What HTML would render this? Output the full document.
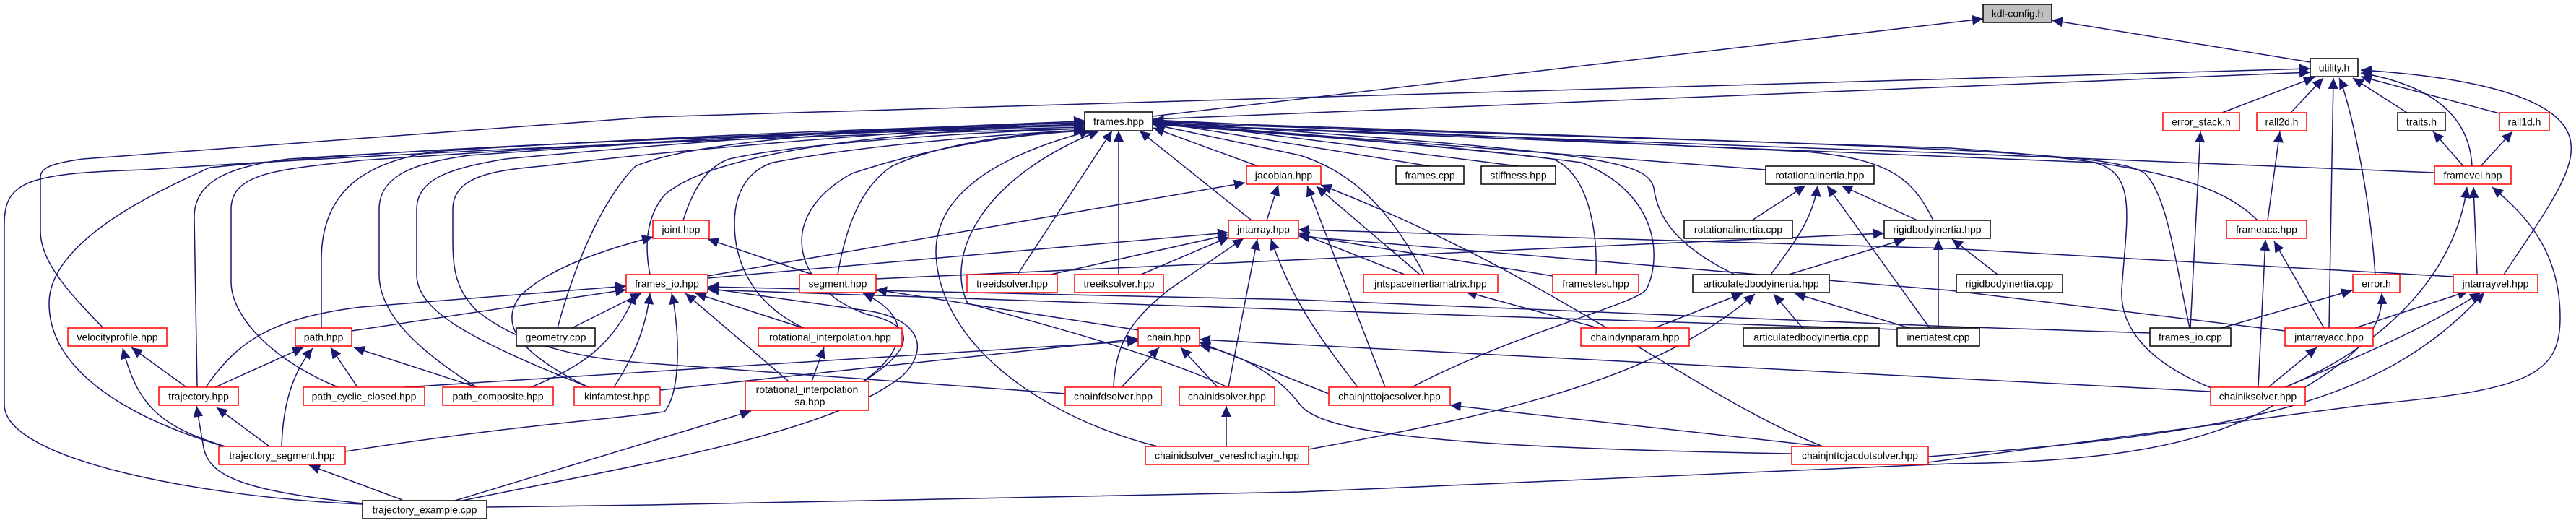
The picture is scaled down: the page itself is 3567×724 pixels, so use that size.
<!DOCTYPE html>
<html><head><meta charset="utf-8">
<style>
html,body{margin:0;padding:0;background:#fff;}
svg{display:block;}
text{font-family:"Liberation Sans",sans-serif;font-size:14px;fill:#000;}
.e{fill:none;stroke:#191970;stroke-width:1.5;}
.r{fill:#fff;stroke:#ff0000;stroke-width:1.5;}
.b{fill:#fff;stroke:#000;stroke-width:1.5;}
</style></head>
<body>
<svg width="3567" height="724" viewBox="0 0 3567 724" xmlns="http://www.w3.org/2000/svg">
<defs>
<marker id="a" markerUnits="userSpaceOnUse" markerWidth="16" markerHeight="14" refX="15" refY="7" orient="auto">
<path d="M0,0 L15,7 L0,14 z" fill="#191970"/>
</marker>
</defs>
<g class="e" marker-end="url(#a)">
<path d="M1596,161 L2746,26"/>
<path d="M3199,86 L2841,28"/>
<path d="M1596,165 L3199,100"/>
<path d="M143,454 C90,400 56,360 56,320 L56,245 C56,230 80,225 115,220 L900,162 L1800,135 L3199,95"/>
<path d="M3077,156 L3205,107"/>
<path d="M3172,156 L3217,108"/>
<path d="M3333,156 L3258,108"/>
<path d="M3461,157 L3269,106"/>
<path d="M3423,230 C3420,170 3380,120 3269,101"/>
<path d="M3467,380 C3520,300 3565,240 3560,200 C3555,130 3400,105 3269,97"/>
<path d="M3289,380 C3280,250 3250,130 3239,108"/>
<path d="M3225,454 L3231,108"/>
<path d="M3411,230 L3369,182"/>
<path d="M3435,230 L3479,182"/>
<path d="M3430,380 L3425,259"/>
<path d="M3164,536 C3300,480 3400,380 3416,259"/>
<path d="M2670,640 L3280,560 C3500,540 3545,520 3545,440 C3545,350 3500,300 3451,259"/>
<path d="M3140,305 L3157,182"/>
<path d="M3218,454 L3149,334"/>
<path d="M3127,536 L3137,332"/>
<path d="M3033,454 L3047,182"/>
<path d="M3076,454 L3257,402"/>
<path d="M3261,454 L3418,403"/>
<path d="M3164,536 C3250,500 3350,460 3435,405"/>
<path d="M2670,632 C3100,600 3300,560 3440,405"/>
<path d="M3141,536 L3208,481"/>
<path d="M674,702 L900,699 L1800,681 L2700,642 C2900,640 3050,620 3150,560 C3260,500 3300,460 3298,406"/>
<path d="M3371,239 L2700,212 L1596,172"/>
<path d="M3126,305 C3080,260 3000,225 2700,205 L1596,170"/>
<path d="M3062,537 C2970,500 2935,450 2938,400 C2945,300 2960,240 2900,225 L1596,172"/>
<path d="M3032,454 C3010,350 3000,270 2970,240 C2930,210 2700,205 1596,168"/>
<path d="M1980,230 L1596,168"/>
<path d="M2102,230 L1596,166"/>
<path d="M2445,235 L1596,170"/>
<path d="M1972,380 C1930,300 1880,240 1800,215 L1596,172"/>
<path d="M2210,380 C2212,320 2200,240 2150,220 C2000,200 1700,180 1596,170"/>
<path d="M2402,380 C2320,340 2295,300 2290,260 C2280,220 2200,210 1596,168"/>
<path d="M2677,305 C2650,250 2620,220 2500,210 L1596,166"/>
<path d="M1955,536 C2100,460 2270,420 2280,400 C2300,360 2300,270 2190,225 C2000,200 1700,180 1596,172"/>
<path d="M1742,230 L1597,177"/>
<path d="M1733,305 L1578,181"/>
<path d="M1549,380 L1549,181"/>
<path d="M1409,380 L1540,181"/>
<path d="M1603,618 C1450,580 1300,480 1296,350 C1295,260 1400,210 1510,181"/>
<path d="M1700,536 C1600,490 1450,450 1340,420 C1310,360 1350,250 1522,181"/>
<path d="M502,698 C300,690 6,640 6,560 L6,310 C6,250 40,240 200,235 C500,215 1000,190 1502,178"/>
<path d="M310,618 C150,570 68,500 68,420 C68,330 230,260 290,232 C600,200 1100,185 1502,176"/>
<path d="M273,536 L269,300 C269,250 320,230 400,220 C800,195 1200,180 1502,174"/>
<path d="M468,536 C380,500 320,440 320,390 L320,290 C320,240 380,235 500,222 C900,195 1200,180 1502,172"/>
<path d="M445,454 L445,360 C445,260 510,225 600,210 C900,190 1200,178 1502,170"/>
<path d="M660,536 C570,480 525,430 525,380 L525,290 C525,240 580,225 650,215 C1000,190 1250,176 1502,170"/>
<path d="M815,536 C650,470 577,430 577,380 L577,290 C577,245 630,232 700,220 C1000,192 1250,176 1502,168"/>
<path d="M1475,545 L900,503 C780,495 710,470 660,430 C630,400 627,370 627,330 L627,290 C627,245 680,236 750,230 C1000,200 1300,180 1502,167"/>
<path d="M772,454 C800,350 840,270 880,230 C960,195 1200,178 1502,170"/>
<path d="M900,380 C892,340 895,300 920,270 C1000,200 1300,180 1502,172"/>
<path d="M946,305 C960,260 980,230 1010,220 C1100,200 1300,185 1502,178"/>
<path d="M1113,454 C1040,420 1017,360 1017,310 C1017,260 1040,235 1070,225 C1200,200 1400,185 1502,180"/>
<path d="M1160,380 C1170,320 1190,260 1235,230 C1300,200 1400,185 1502,180"/>
<path d="M1196,528 C1270,480 1268,450 1200,435 C1100,400 1070,300 1180,240 C1300,200 1420,185 1502,181"/>
<path d="M1754,305 L1770,256"/>
<path d="M980,382 L1724,253"/>
<path d="M1966,380 L1823,258"/>
<path d="M1918,536 L1810,257"/>
<path d="M2524,618 C2350,550 2150,380 1829,256"/>
<path d="M980,385 L1701,322"/>
<path d="M1455,380 L1701,325"/>
<path d="M1580,380 L1702,328"/>
<path d="M1542,536 C1545,470 1570,440 1620,400 L1722,330"/>
<path d="M1701,536 L1741,331"/>
<path d="M1880,536 C1830,470 1790,420 1760,331"/>
<path d="M1945,380 L1798,322"/>
<path d="M2150,382 L1798,325"/>
<path d="M3397,383 L2700,344 L1798,318"/>
<path d="M3164,458 L2700,402 L1798,327"/>
<path d="M1213,386 L2609,323"/>
<path d="M2477,380 L2638,331"/>
<path d="M2452,380 C2490,330 2510,300 2517,257"/>
<path d="M2655,305 L2550,257"/>
<path d="M2426,305 L2500,257"/>
<path d="M2672,454 L2530,257"/>
<path d="M2684,454 L2684,331"/>
<path d="M2644,454 L2485,406"/>
<path d="M2496,454 L2456,407"/>
<path d="M2291,454 L2413,406"/>
<path d="M2213,454 L2030,404"/>
<path d="M2766,380 L2703,331"/>
<path d="M1812,622 C2100,570 2300,520 2430,407"/>
<path d="M1698,618 L1698,562"/>
<path d="M2525,618 L2008,561"/>
<path d="M2481,628 C2000,620 1830,600 1800,560 C1770,520 1720,490 1661,478"/>
<path d="M1686,536 L1635,481"/>
<path d="M1553,536 L1605,481"/>
<path d="M3061,542 L1661,470"/>
<path d="M1840,545 L1661,474"/>
<path d="M914,540 L1576,469"/>
<path d="M1577,457 L1213,401"/>
<path d="M1125,380 L980,331"/>
<path d="M1195,528 C1250,490 1270,440 1195,406"/>
<path d="M560,536 L1576,472"/>
<path d="M815,536 C720,490 690,450 720,410 C760,370 840,345 904,328"/>
<path d="M285,536 C330,470 380,440 500,425 L867,396"/>
<path d="M487,458 L867,401"/>
<path d="M792,454 L888,406"/>
<path d="M735,536 C800,510 850,480 880,406"/>
<path d="M850,536 C880,490 895,450 900,406"/>
<path d="M1112,454 L963,406"/>
<path d="M1092,528 L949,406"/>
<path d="M478,625 C700,590 850,580 920,570 C945,540 940,450 930,406"/>
<path d="M640,693 C900,640 1150,600 1250,520 C1290,480 1270,440 1200,430 L980,399"/>
<path d="M2977,461 L2700,452 L1800,415 L980,397"/>
<path d="M2627,456 L1800,429 L980,401"/>
<path d="M630,693 L1040,569"/>
<path d="M502,697 C340,680 290,660 282,620 L272,562"/>
<path d="M557,692 L428,644"/>
<path d="M373,618 L300,564"/>
<path d="M312,618 C220,590 190,560 170,482"/>
<path d="M390,618 C392,550 410,510 433,482"/>
<path d="M258,536 L182,481"/>
<path d="M298,536 L420,481"/>
<path d="M495,536 L458,481"/>
<path d="M660,536 L490,481"/>
<path d="M1124,528 L1141,481"/>
</g>
<g>
<rect x="2746" y="6" width="95" height="25" fill="#bfbfbf" stroke="#000" stroke-width="1.5"/><text x="2793.5" y="23.5" text-anchor="middle">kdl-config.h</text>
<rect class="b" x="3199" y="81" width="66" height="25"/><text x="3232" y="98.5" text-anchor="middle">utility.h</text>
<rect class="b" x="1502" y="155" width="94" height="26"/><text x="1549" y="173" text-anchor="middle">frames.hpp</text>
<rect class="r" x="2995" y="156" width="106" height="25"/><text x="3048" y="173.5" text-anchor="middle">error_stack.h</text>
<rect class="r" x="3125" y="156" width="69" height="25"/><text x="3159.5" y="173.5" text-anchor="middle">rall2d.h</text>
<rect class="b" x="3320" y="156" width="66" height="25"/><text x="3353" y="173.5" text-anchor="middle">traits.h</text>
<rect class="r" x="3461" y="156" width="69" height="25"/><text x="3495.5" y="173.5" text-anchor="middle">rall1d.h</text>
<rect class="r" x="1726" y="230" width="103" height="25"/><text x="1777.5" y="247.5" text-anchor="middle">jacobian.hpp</text>
<rect class="b" x="1933" y="230" width="94" height="25"/><text x="1980" y="247.5" text-anchor="middle">frames.cpp</text>
<rect class="b" x="2051" y="230" width="103" height="25"/><text x="2102.5" y="247.5" text-anchor="middle">stiffness.hpp</text>
<rect class="b" x="2445" y="230" width="150" height="25"/><text x="2520" y="247.5" text-anchor="middle">rotationalinertia.hpp</text>
<rect class="r" x="3371" y="230" width="106" height="25"/><text x="3424" y="247.5" text-anchor="middle">framevel.hpp</text>
<rect class="r" x="904" y="305" width="78" height="25"/><text x="943" y="322.5" text-anchor="middle">joint.hpp</text>
<rect class="r" x="1701" y="305" width="97" height="25"/><text x="1749.5" y="322.5" text-anchor="middle">jntarray.hpp</text>
<rect class="b" x="2332" y="305" width="150" height="25"/><text x="2407" y="322.5" text-anchor="middle">rotationalinertia.cpp</text>
<rect class="b" x="2609" y="305" width="147" height="25"/><text x="2682.5" y="322.5" text-anchor="middle">rigidbodyinertia.hpp</text>
<rect class="r" x="3083" y="305" width="111" height="25"/><text x="3138.5" y="322.5" text-anchor="middle">frameacc.hpp</text>
<rect class="r" x="867" y="380" width="113" height="25"/><text x="923.5" y="397.5" text-anchor="middle">frames_io.hpp</text>
<rect class="r" x="1107" y="380" width="106" height="25"/><text x="1160" y="397.5" text-anchor="middle">segment.hpp</text>
<rect class="r" x="1339" y="380" width="125" height="25"/><text x="1401.5" y="397.5" text-anchor="middle">treeidsolver.hpp</text>
<rect class="r" x="1488" y="380" width="123" height="25"/><text x="1549.5" y="397.5" text-anchor="middle">treeiksolver.hpp</text>
<rect class="r" x="1888" y="380" width="186" height="25"/><text x="1981" y="397.5" text-anchor="middle">jntspaceinertiamatrix.hpp</text>
<rect class="r" x="2150" y="380" width="119" height="25"/><text x="2209.5" y="397.5" text-anchor="middle">framestest.hpp</text>
<rect class="b" x="2344" y="380" width="189" height="25"/><text x="2438.5" y="397.5" text-anchor="middle">articulatedbodyinertia.hpp</text>
<rect class="b" x="2709" y="380" width="147" height="25"/><text x="2782.5" y="397.5" text-anchor="middle">rigidbodyinertia.cpp</text>
<rect class="r" x="3258" y="380" width="65" height="25"/><text x="3290.5" y="397.5" text-anchor="middle">error.h</text>
<rect class="r" x="3397" y="380" width="117" height="25"/><text x="3455.5" y="397.5" text-anchor="middle">jntarrayvel.hpp</text>
<rect class="r" x="94" y="454" width="137" height="25"/><text x="162.5" y="471.5" text-anchor="middle">velocityprofile.hpp</text>
<rect class="r" x="409" y="454" width="78" height="25"/><text x="448" y="471.5" text-anchor="middle">path.hpp</text>
<rect class="b" x="715" y="454" width="109" height="25"/><text x="769.5" y="471.5" text-anchor="middle">geometry.cpp</text>
<rect class="r" x="1050" y="454" width="199" height="25"/><text x="1149.5" y="471.5" text-anchor="middle">rotational_interpolation.hpp</text>
<rect class="r" x="1576" y="454" width="85" height="25"/><text x="1618.5" y="471.5" text-anchor="middle">chain.hpp</text>
<rect class="r" x="2189" y="454" width="150" height="25"/><text x="2264" y="471.5" text-anchor="middle">chaindynparam.hpp</text>
<rect class="b" x="2414" y="454" width="188" height="25"/><text x="2508" y="471.5" text-anchor="middle">articulatedbodyinertia.cpp</text>
<rect class="b" x="2627" y="454" width="114" height="25"/><text x="2684" y="471.5" text-anchor="middle">inertiatest.cpp</text>
<rect class="b" x="2977" y="454" width="112" height="25"/><text x="3033" y="471.5" text-anchor="middle">frames_io.cpp</text>
<rect class="r" x="3164" y="454" width="122" height="25"/><text x="3225" y="471.5" text-anchor="middle">jntarrayacc.hpp</text>
<rect class="r" x="220" y="536" width="110" height="25"/><text x="275" y="553.5" text-anchor="middle">trajectory.hpp</text>
<rect class="r" x="420" y="536" width="168" height="25"/><text x="504" y="553.5" text-anchor="middle">path_cyclic_closed.hpp</text>
<rect class="r" x="613" y="536" width="153" height="25"/><text x="689.5" y="553.5" text-anchor="middle">path_composite.hpp</text>
<rect class="r" x="795" y="536" width="119" height="25"/><text x="854.5" y="553.5" text-anchor="middle">kinfamtest.hpp</text>
<rect class="r" x="1032" y="528" width="171" height="40"/><text x="1117.5" y="544" text-anchor="middle">rotational_interpolation</text><text x="1117.5" y="561" text-anchor="middle">_sa.hpp</text>
<rect class="r" x="1475" y="536" width="133" height="25"/><text x="1541.5" y="553.5" text-anchor="middle">chainfdsolver.hpp</text>
<rect class="r" x="1633" y="536" width="132" height="25"/><text x="1699" y="553.5" text-anchor="middle">chainidsolver.hpp</text>
<rect class="r" x="1840" y="536" width="168" height="25"/><text x="1924" y="553.5" text-anchor="middle">chainjnttojacsolver.hpp</text>
<rect class="r" x="3061" y="536" width="131" height="25"/><text x="3126.5" y="553.5" text-anchor="middle">chainiksolver.hpp</text>
<rect class="r" x="303" y="618" width="175" height="25"/><text x="390.5" y="635.5" text-anchor="middle">trajectory_segment.hpp</text>
<rect class="r" x="1586" y="618" width="226" height="25"/><text x="1699" y="635.5" text-anchor="middle">chainidsolver_vereshchagin.hpp</text>
<rect class="r" x="2481" y="618" width="189" height="25"/><text x="2575.5" y="635.5" text-anchor="middle">chainjnttojacdotsolver.hpp</text>
<rect class="b" x="502" y="693" width="172" height="25"/><text x="588" y="710.5" text-anchor="middle">trajectory_example.cpp</text>
</g>
</svg>
</body></html>
